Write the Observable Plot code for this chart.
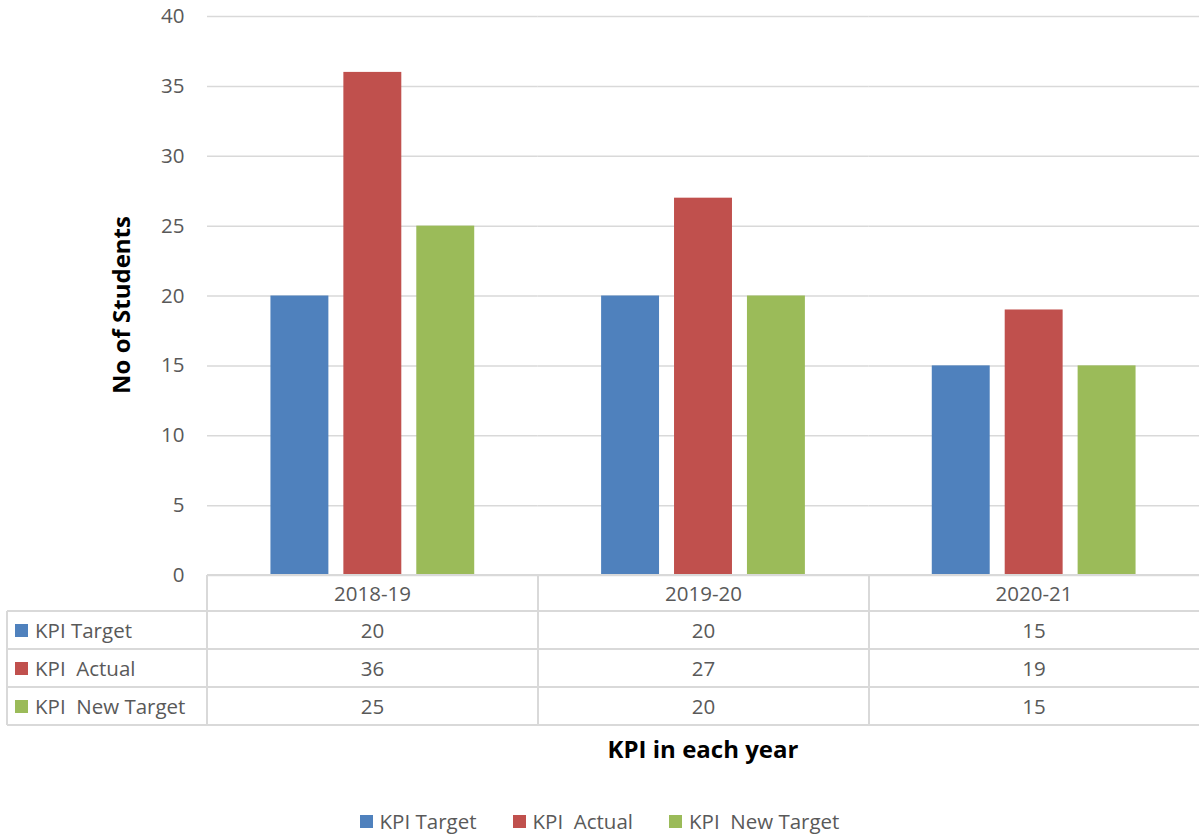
<!DOCTYPE html>
<html>
<head>
<meta charset="utf-8">
<script src="https://cdn.jsdelivr.net/npm/d3@7"></script>
<script src="https://cdn.jsdelivr.net/npm/@observablehq/plot@0.6"></script>
<style>
  body { margin: 0; background: #fff; }
  #root { position: relative; width: 1199px; height: 836px; font-family: "Open Sans", sans-serif; color: #595959; overflow: hidden; }
  #root svg { position: absolute; left: 0; top: 0; }
  .abs { position: absolute; white-space: pre; }
  .line { position: absolute; background: #d9d9d9; }
  .cell { position: absolute; font-size: 20.5px; text-align: center; line-height: 36px; }
  .sw { position: absolute; width: 13px; height: 13px; }
</style>
</head>
<body>
<div id="root"></div>
<script>
const years = ["2018-19", "2019-20", "2020-21"];
const series = ["KPI Target", "KPI  Actual", "KPI  New Target"];
const colors = ["#4f81bd", "#c0504d", "#9bbb59"];
const kpiTarget = [20, 20, 15];
const kpiActual = [36, 27, 19];
const kpiNewTarget = [25, 20, 15];
const yTicks = [0, 5, 10, 15, 20, 25, 30, 35, 40];

const seriesValues = [kpiTarget, kpiActual, kpiNewTarget];
const rows = [];
years.forEach((yr, i) => series.forEach((s, j) => rows.push({year: yr, series: s, value: seriesValues[j][i]})));

const root = document.getElementById("root");

const chart = Plot.plot({
  width: 1199,
  height: 600,
  marginLeft: 207,
  marginRight: 0,
  marginTop: 16,
  marginBottom: 25,
  style: {fontFamily: "Open Sans, sans-serif", fontSize: "20.5px", color: "#595959", background: "transparent"},
  facet: {data: rows, x: "year"},
  fx: {domain: years, padding: 0, round: false, axis: null},
  x: {domain: series, paddingInner: 0.2055, paddingOuter: 0.87, round: false, axis: null},
  y: {domain: [0, 40], ticks: yTicks, tickSize: 0, tickPadding: 23, label: null},
  color: {domain: series, range: colors},
  marks: [
    Plot.ruleY(yTicks, {stroke: "#d9d9d9", strokeWidth: 1.5, facet: null}),
    Plot.barY(rows, {x: "series", y: "value", fill: "series"})
  ]
});
root.appendChild(chart);

function add(cls, styles, text) {
  const d = document.createElement("div");
  d.className = cls;
  Object.assign(d.style, styles);
  if (text != null) d.textContent = text;
  root.appendChild(d);
  return d;
}

// Data table below the chart
const colEdges = [207, 538, 869, 1199];
const headerTop = 575, rowTop = 611, rowH = 38;
add("line", {left: "207px", top: (headerTop - 1) + "px", width: (1199 - 207) + "px", height: "2px"});
for (let r = 0; r <= series.length; r++) {
  add("line", {left: "7px", top: (rowTop + r * rowH - 1) + "px", width: (1199 - 7) + "px", height: "2px"});
}
add("line", {left: "6px", top: rowTop + "px", width: "2px", height: (series.length * rowH) + "px"});
for (let c = 0; c < 3; c++) {
  add("line", {left: (colEdges[c] - 1) + "px", top: headerTop + "px", width: "2px", height: (rowTop + series.length * rowH - headerTop) + "px"});
}
years.forEach((yr, c) => {
  add("cell", {left: colEdges[c] + "px", top: (headerTop) + "px", width: (colEdges[c + 1] - colEdges[c]) + "px", height: "36px"}, yr);
});
series.forEach((s, r) => {
  const top = rowTop + r * rowH;
  add("sw", {left: "15px", top: (top + 13) + "px", background: colors[r]});
  add("abs", {left: "35px", top: top + "px", fontSize: "20.5px", lineHeight: "38px"}, s);
  years.forEach((yr, c) => {
    add("cell", {left: colEdges[c] + "px", top: top + "px", width: (colEdges[c + 1] - colEdges[c]) + "px", height: rowH + "px", lineHeight: rowH + "px"}, String(seriesValues[r][c]));
  });
});

add("abs", {left: "207px", width: "992px", top: "732px", textAlign: "center", fontSize: "24px", fontWeight: "bold", color: "#000"}, "KPI in each year");
add("abs", {left: "120px", top: "305px", fontSize: "24px", fontWeight: "bold", color: "#000", transform: "translate(-50%, -50%) rotate(-90deg)"}, "No of Students");

const leg = add("abs", {left: "0px", width: "1199px", top: "807px", display: "flex", justifyContent: "center", fontSize: "20.5px", lineHeight: "28px"});
series.forEach((s, i) => {
  const item = document.createElement("span");
  item.style.display = "inline-flex";
  item.style.alignItems = "center";
  item.style.marginLeft = i === 0 ? "0" : "36px";
  const sw = document.createElement("span");
  sw.style.cssText = `display:inline-block;width:13px;height:13px;background:${colors[i]};margin-right:7px;`;
  const t = document.createElement("span");
  t.style.whiteSpace = "pre";
  t.textContent = s;
  item.appendChild(sw); item.appendChild(t);
  leg.appendChild(item);
});
</script>
</body>
</html>
